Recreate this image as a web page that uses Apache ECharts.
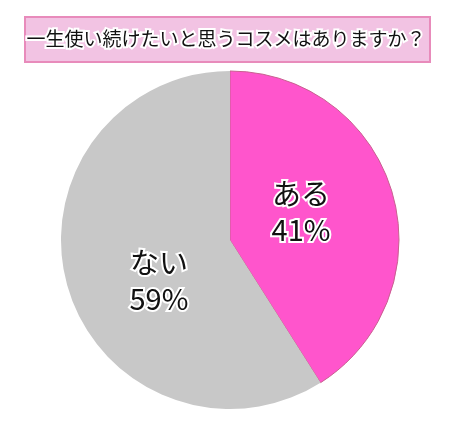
<!DOCTYPE html>
<html>
<head>
<meta charset="utf-8">
<script src="https://cdn.jsdelivr.net/npm/echarts@6/dist/echarts.min.js"></script>
<style>
  html, body { margin: 0; padding: 0; background: #fff; }
  #main { width: 452px; height: 431px; }
</style>
</head>
<body>
<div id="main"></div>
<script>
var titulo = '一生使い続けたいと思うコスメはありますか？';
var categorias = ['ある', 'ない'];
var valores = [41, 59];
var colores = ['#ff55cc', '#c8c8c8'];

var dom = document.getElementById('main');
var myChart = echarts.init(dom, null, { renderer: 'canvas' });

// desplazamiento de etiquetas para acercarlas a la posición del original
var desplazamientos = [[-13, -4], [13, 17]];

var datos = categorias.map(function (c, i) {
  return {
    name: c,
    value: valores[i],
    label: { offset: desplazamientos[i] },
    itemStyle: {
      color: colores[i],
      borderColor: i === 0 ? '#c8608f' : colores[i],
      borderWidth: i === 0 ? 1 : 0
    }
  };
});

var option = {
  animation: false,
  graphic: [{
    type: 'rect',
    left: 24,
    top: 16,
    shape: { width: 405, height: 45 },
    style: { fill: '#f2c3e3', stroke: '#e88bbb', lineWidth: 2 },
    z: 0
  }],
  title: {
    text: titulo,
    left: 'center',
    top: 24,
    textStyle: {
      fontFamily: 'Noto Sans CJK JP',
      fontSize: 19,
      fontWeight: 'normal',
      color: '#111',
      textBorderColor: '#fff',
      textBorderWidth: 4
    },
    z: 5
  },
  series: [{
    type: 'pie',
    center: [230, 240],
    radius: 169,
    startAngle: 90,
    clockwise: true,
    data: datos,
    label: {
      show: true,
      position: 'inside',
      formatter: '{b}\n{d}%',
      fontFamily: 'Noto Sans CJK JP',
      fontSize: 29,
      fontWeight: 'normal',
      lineHeight: 36,
      color: '#111',
      textBorderColor: '#fff',
      textBorderWidth: 4
    },
    labelLine: { show: false },
    emphasis: { disabled: true }
  }]
};

myChart.setOption(option);
</script>
</body>
</html>
